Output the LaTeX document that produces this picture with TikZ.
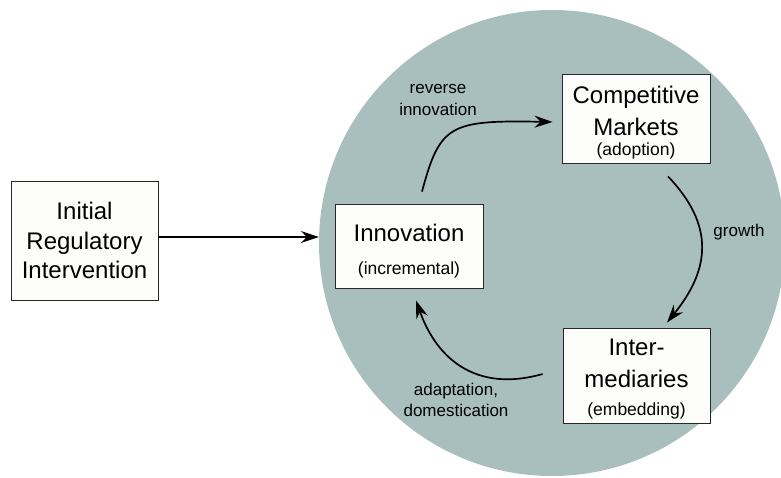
\documentclass[tikz,border=0pt]{standalone}
\usepackage{fontspec}
\setmainfont{Liberation Sans}
\usetikzlibrary{arrows.meta,positioning}
\definecolor{disc}{RGB}{169,191,189}
\definecolor{boxfill}{RGB}{253,253,251}
\definecolor{boxline}{RGB}{40,40,40}

% smaller second line inside a box
\newcommand{\subtext}[1]{{\fontsize{17.5}{20}\selectfont #1}}
% extra room above the first line
\newcommand{\topgap}[1]{\rule{0pt}{#1}}

\tikzset{
  box/.style={draw=boxline, line width=0.9pt, fill=boxfill, align=center, inner sep=0pt,
    font=\fontsize{24}{32}\selectfont},
  flow/.style={-{Stealth[length=18pt,width=12pt,inset=6pt]}, line width=1.7pt},
  lbl/.style={align=center, font=\fontsize{17}{21.5}\selectfont}
}

\begin{document}
\begin{tikzpicture}[x=1pt, y=1pt]
    \useasboundingbox (0,0) rectangle (781,477);
    \clip (0,0) rectangle (781,477);

    % the cycle disc
    \node[circle, fill=disc, minimum size=466pt, inner sep=0pt] (cycle) at (552,234) {};

    \node[box, minimum width=147pt, minimum height=119pt, font=\fontsize{24}{29.5}\selectfont] (init) at (84.5,236.5) {Initial\\Regulatory\\Intervention};
    \node[box, minimum width=148pt, minimum height=84pt] (innov) at (409,231) {\topgap{28pt}Innovation\\[1pt]\subtext{(incremental)}};
    \node[box, minimum width=148pt, minimum height=89pt] (market) at (636,358.5) {\topgap{24.7pt}Competitive\\Markets\\[-12pt]\subtext{(adoption)}};
    \node[box, minimum width=147pt, minimum height=95pt] (inter) at (636.5,101.5) {\topgap{22.7pt}Inter-\\mediaries\\[-4pt]\subtext{(embedding)}};

    \node[lbl] (rev) at (438,377) {reverse\\innovation};
    \node[lbl] (grow) at (739,245) {growth};
    \node[lbl] (adapt) at (456,77) {adaptation,\\domestication};

    \draw[flow] ([yshift=3.5pt]init.east) -- ([yshift=3.5pt]init.east -| cycle.west);
    \draw[flow] ([shift={(13,12)}]innov.north) .. controls +(18,67) and +(-103,2) .. ([shift={(-9,-3.5)}]market.west);
    \draw[flow] ([shift={(32,-13)}]market.south) .. controls +(47,-49) and +(43,53) .. ([shift={(30.5,5)}]inter.north);
    \draw[flow] ([shift={(-20,1.5)}]inter.west) .. controls +(-63,-18) and +(22,-62) .. ([shift={(7,-12)}]innov.south);
\end{tikzpicture}
\end{document}
